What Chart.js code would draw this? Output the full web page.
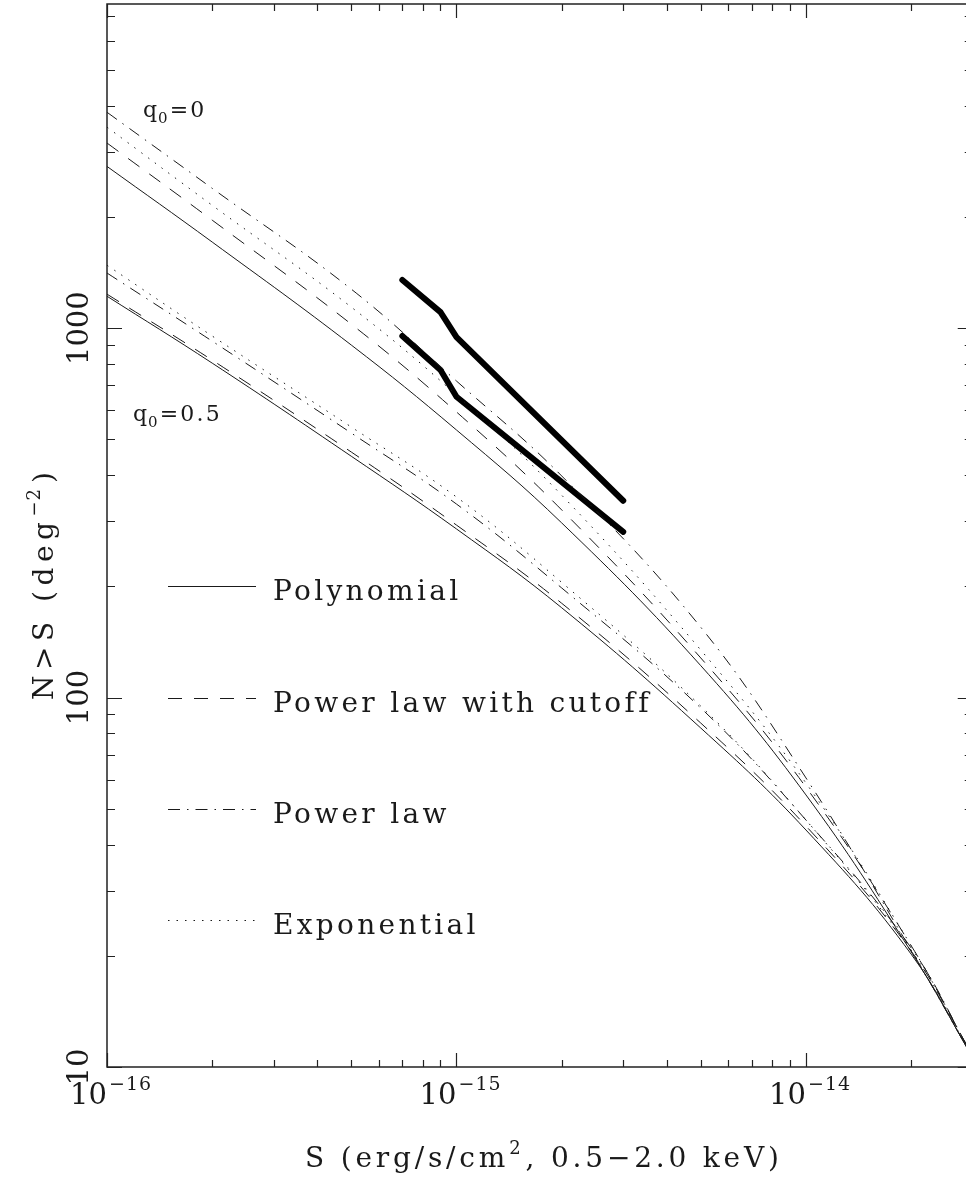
<!DOCTYPE html>
<html>
<head>
<meta charset="utf-8">
<title>N(>S) models</title>
<script src="https://cdn.jsdelivr.net/npm/chart.js@4.4.1/dist/chart.umd.min.js"></script>
<style>
  body { margin: 0; background: #fff; }
</style>
</head>
<body>
<canvas id="chart" width="966" height="1179"></canvas>
<script>
// flux grid (erg/s/cm^2, 0.5-2.0 keV)
const flux = [1e-16, 2e-16, 5e-16, 1e-15, 2e-15, 5e-15, 1e-14, 2e-14, 3e-14];

// q0 = 0 models, N(>S) per deg^2
const poly0   = [2740, 1710, 900, 530, 297, 122, 54.5, 20.5, 10.6];
const cutoff0 = [3170, 1960, 1025, 593, 322, 128, 57.2, 21.3, 10.7];
const power0  = [3840, 2390, 1275, 719, 398, 155, 60.6, 20.7, 10.6];
const expo0   = [3500, 2150, 1140, 659, 353, 134.5, 58.7, 21.3, 10.7];

// q0 = 0.5 models
const poly5   = [1220, 804, 450, 286, 175, 82.7, 43.8, 20.2, 10.6];
const cutoff5 = [1236, 819, 462, 293, 180, 85.3, 44.9, 20.6, 10.7];
const power5  = [1410, 922, 520, 334, 198, 93.7, 46.6, 21.0, 10.7];
const expo5   = [1480, 952, 540, 349, 205, 94.8, 46.6, 20.7, 10.6];

// observed band (thick lines)
const obsFlux = [7e-16, 9e-16, 1e-15, 3e-15];
const obsHigh = [1350, 1105, 945, 341];
const obsLow  = [952, 770, 652, 281];

const legendNames = ['Polynomial', 'Power law with cutoff', 'Power law', 'Exponential'];

const SERIF = '"DejaVu Serif", "Liberation Serif", serif';
const INK = '#1a1a1a';

// dash styles per model
const dashes = {
  solid: [],
  cutoff: [14, 12],
  power: [12, 7, 1.5, 7],
  expo: [1.5, 7]
};

function pts(xs, ys) {
  return xs.map((x, i) => ({ x: x, y: ys[i] }));
}

function thin(data, dash) {
  return {
    data: pts(flux, data),
    borderColor: INK,
    borderWidth: 1,
    borderDash: dash,
    pointRadius: 0,
    tension: 0.4,
    fill: false
  };
}

function thick(data) {
  return {
    data: pts(obsFlux, data),
    borderColor: '#000',
    borderWidth: 6,
    borderCapStyle: 'round',
    borderJoinStyle: 'round',
    pointRadius: 0,
    tension: 0,
    fill: false
  };
}

function txt(ctx, s, x, y, size, spacing) {
  ctx.font = size + 'px ' + SERIF;
  ctx.letterSpacing = (spacing || 0) + 'px';
  ctx.fillText(s, x, y);
  const w = ctx.measureText(s).width;
  ctx.letterSpacing = '0px';
  return w;
}

// "10" with a raised exponent, right edge of the base sitting on x
function powLabel(ctx, exp, x, y) {
  ctx.textAlign = 'right';
  txt(ctx, '10', x, y, 29, 0);
  ctx.textAlign = 'left';
  txt(ctx, '\u2212' + exp, x + 2, y - 14, 19, 1);
}

const axesPlugin = {
  id: 'axesPlugin',
  afterDraw(chart) {
    const ctx = chart.ctx;
    const a = chart.chartArea;
    const xs = chart.scales.x, ys = chart.scales.y;
    const xRight = xs.getPixelForValue(3e-14);

    ctx.save();
    ctx.strokeStyle = '#222';
    ctx.fillStyle = INK;
    ctx.lineWidth = 1.5;

    // frame (right side falls outside the picture)
    ctx.beginPath();
    ctx.moveTo(xRight, a.top);
    ctx.lineTo(a.left, a.top);
    ctx.lineTo(a.left, a.bottom);
    ctx.lineTo(xRight, a.bottom);
    ctx.stroke();

    // x ticks, bottom and top
    ctx.lineWidth = 1.2;
    ctx.beginPath();
    for (let e = -16; e <= -14; e++) {
      for (let m = 1; m <= 9; m++) {
        const v = m * Math.pow(10, e);
        if (v > 3.01e-14) break;
        const px = Math.round(xs.getPixelForValue(v)) + 0.5;
        const len = m === 1 ? 14 : 7;
        ctx.moveTo(px, a.bottom); ctx.lineTo(px, a.bottom - len);
        ctx.moveTo(px, a.top); ctx.lineTo(px, a.top + len);
      }
    }
    // y ticks, left and right
    for (let e = 1; e <= 3; e++) {
      for (let m = 1; m <= 9; m++) {
        const v = m * Math.pow(10, e);
        if (v > ys.max) break;
        const py = Math.round(ys.getPixelForValue(v)) + 0.5;
        const len = m === 1 ? 15 : 8;
        ctx.moveTo(a.left, py); ctx.lineTo(a.left + len, py);
        ctx.moveTo(xRight, py); ctx.lineTo(xRight - len, py);
      }
    }
    ctx.stroke();

    // x tick labels
    ctx.textBaseline = 'alphabetic';
    [-16, -15, -14].forEach(e => {
      powLabel(ctx, String(-e), xs.getPixelForValue(Math.pow(10, e)), 1104);
    });

    // y tick labels (rotated)
    ['10', '100', '1000'].forEach(s => {
      const py = ys.getPixelForValue(Number(s));
      ctx.save();
      ctx.translate(88, py);
      ctx.rotate(-Math.PI / 2);
      ctx.textAlign = 'center';
      txt(ctx, s, 0, 0, 29, 0);
      ctx.restore();
    });

    // x title
    ctx.textAlign = 'left';
    let x = 305;
    const yT = 1167;
    x += txt(ctx, 'S (erg/s/cm', x, yT, 28, 3.8);
    x += txt(ctx, '2', x, yT - 13, 18, 0) + 5;
    txt(ctx, ', 0.5\u22122.0 keV)', x, yT, 28, 3.8);

    // y title (rotated)
    ctx.save();
    ctx.translate(53, 700);
    ctx.rotate(-Math.PI / 2);
    let t = 0;
    t += txt(ctx, 'N>S (deg', t, 0, 28, 5.5);
    t += txt(ctx, '\u22122', t, -13, 18, 1) + 5;
    txt(ctx, ')', t, 0, 28, 0);
    ctx.restore();

    // q0 labels
    function qLabel(val, x0, y0) {
      let w = txt(ctx, 'q', x0, y0, 22, 0);
      w += txt(ctx, '0', x0 + w + 1, y0 + 6, 15, 0) + 3;
      txt(ctx, '=' + val, x0 + w, y0, 22, 2.2);
    }
    qLabel('0', 143, 117);
    qLabel('0.5', 133, 421);

    // legend
    const rows = [
      { y: 586, dash: dashes.solid },
      { y: 698, dash: dashes.cutoff },
      { y: 809, dash: dashes.power },
      { y: 920, dash: dashes.expo }
    ];
    ctx.strokeStyle = INK;
    ctx.lineWidth = 1;
    rows.forEach((r, i) => {
      ctx.setLineDash(r.dash);
      ctx.beginPath();
      ctx.moveTo(168, r.y + 0.5);
      ctx.lineTo(256, r.y + 0.5);
      ctx.stroke();
      ctx.setLineDash([]);
      txt(ctx, legendNames[i], 273, r.y + 14, 28, 3.3);
    });

    ctx.restore();
  }
};

new Chart(document.getElementById('chart'), {
  type: 'line',
  data: {
    datasets: [
      thin(poly0, dashes.solid),
      thin(cutoff0, dashes.cutoff),
      thin(power0, dashes.power),
      thin(expo0, dashes.expo),
      thin(poly5, dashes.solid),
      thin(cutoff5, dashes.cutoff),
      thin(power5, dashes.power),
      thin(expo5, dashes.expo),
      thick(obsHigh),
      thick(obsLow)
    ]
  },
  options: {
    responsive: false,
    animation: false,
    devicePixelRatio: 1,
    layout: { padding: { left: 107, right: 0, top: 4, bottom: 112 } },
    plugins: { legend: { display: false }, tooltip: { enabled: false } },
    scales: {
      x: { type: 'logarithmic', min: 1e-16, max: 2.87e-14, display: false },
      y: { type: 'logarithmic', min: 10, max: 7540, display: false }
    }
  },
  plugins: [axesPlugin]
});
</script>
</body>
</html>
